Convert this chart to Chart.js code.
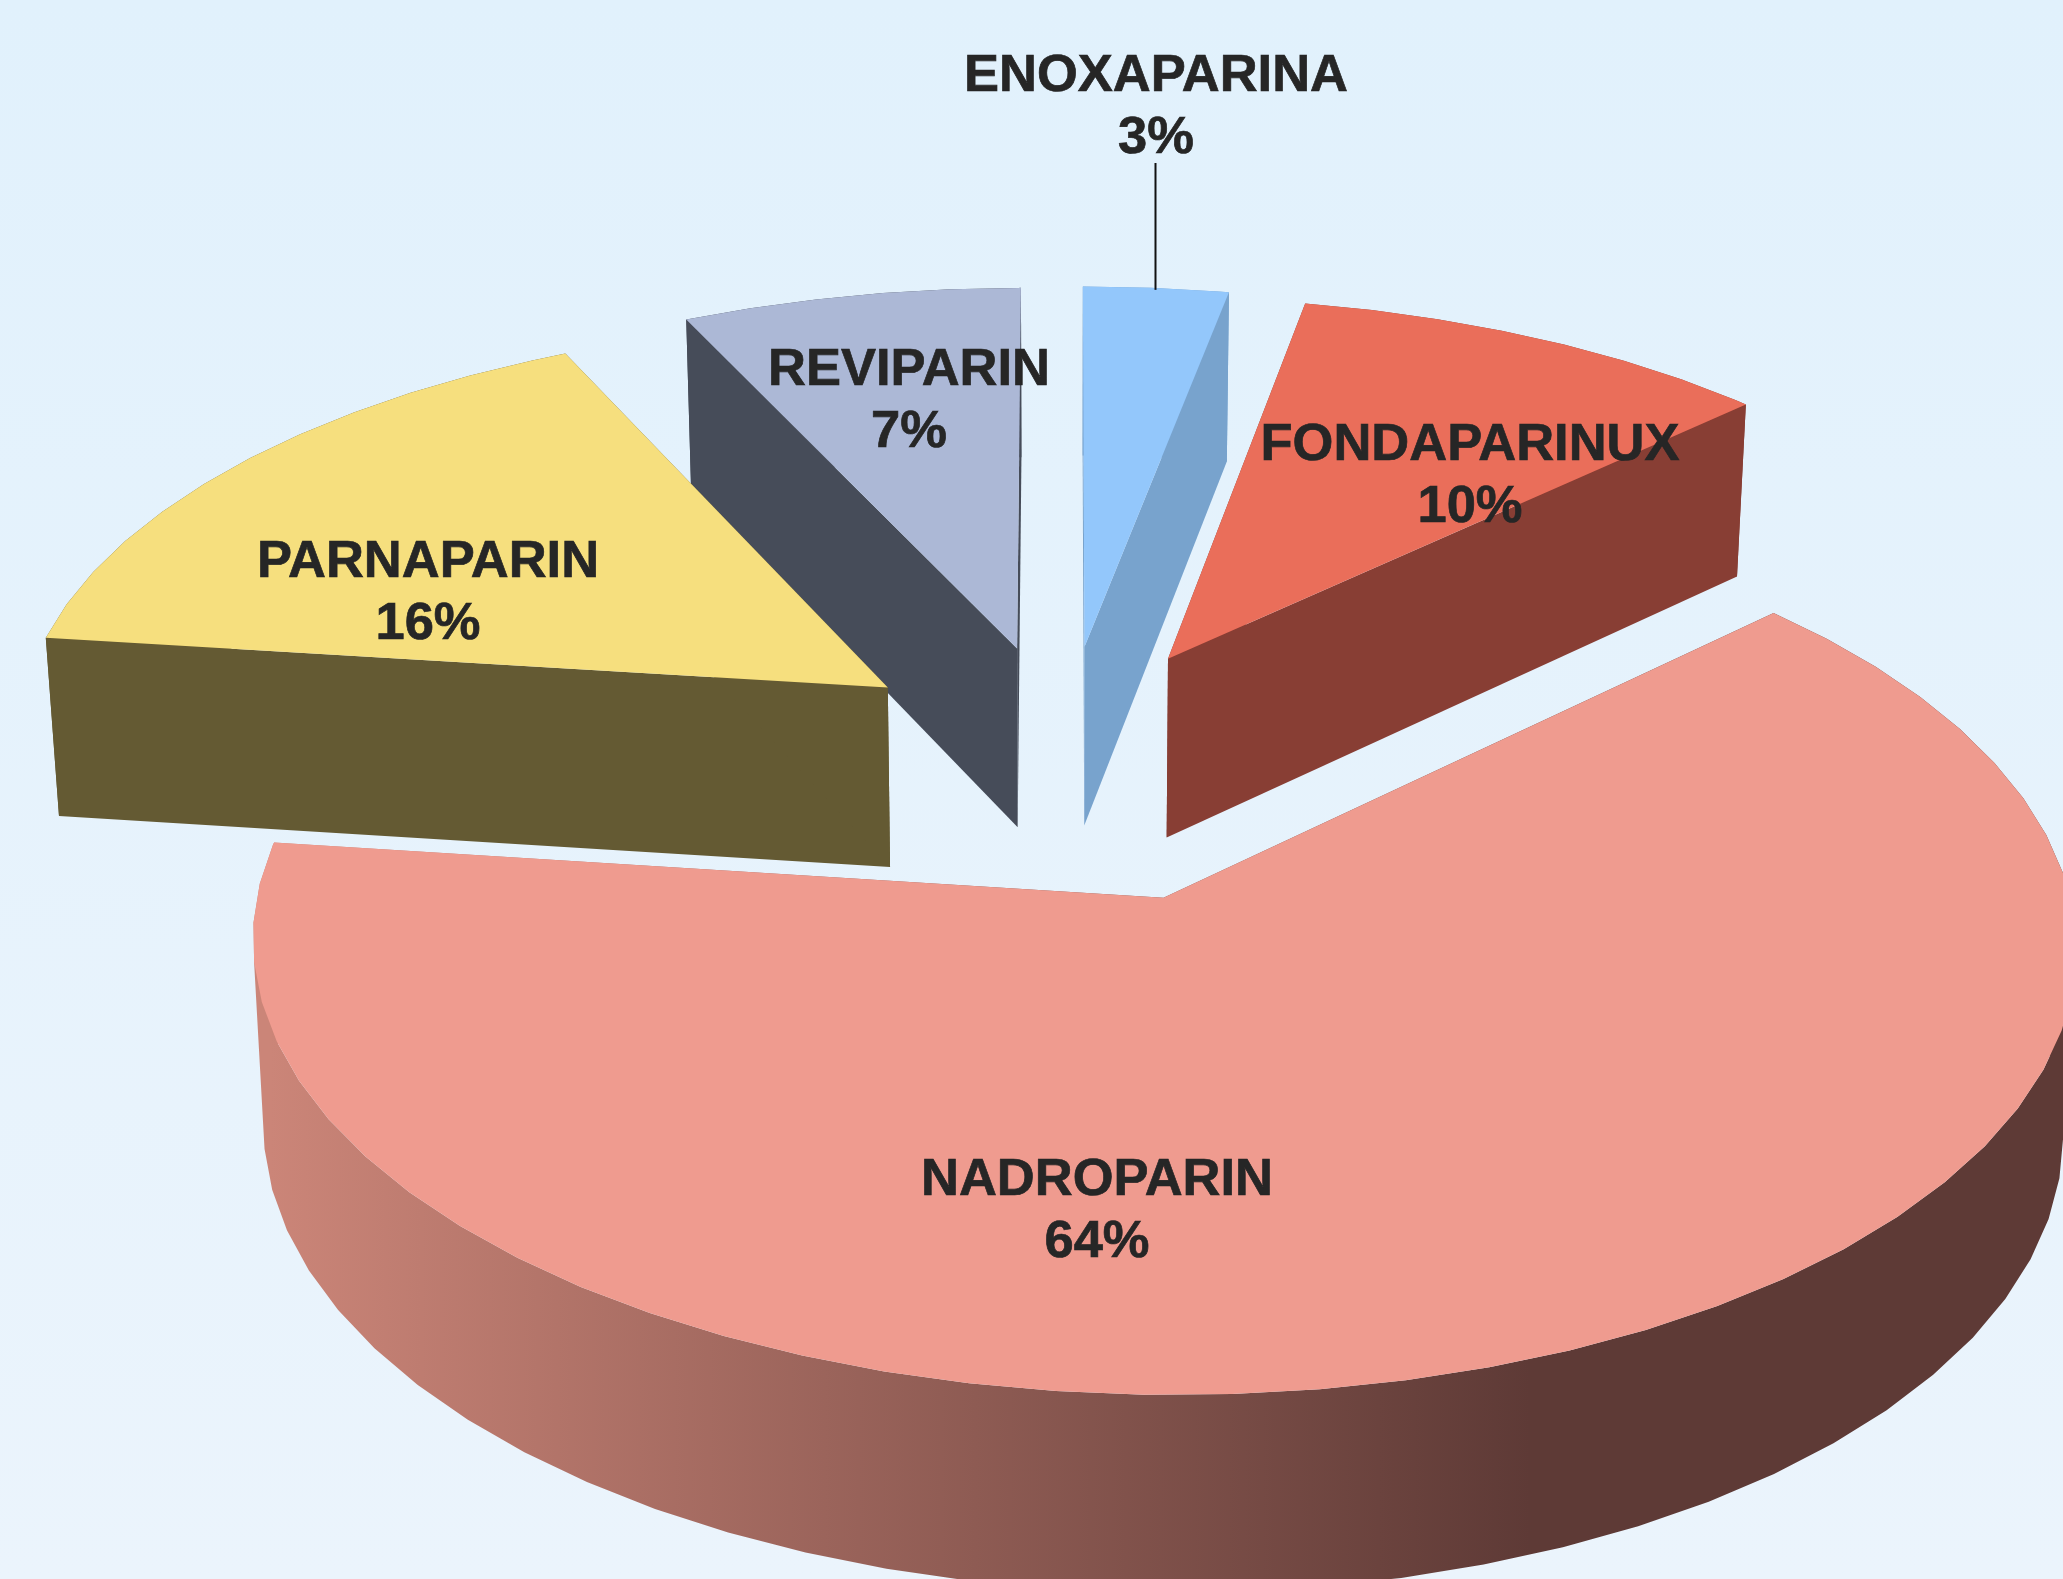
<!DOCTYPE html>
<html>
<head>
<meta charset="utf-8">
<title>Eparine</title>
<script src="https://cdn.jsdelivr.net/npm/chart.js@4"></script>
<style>
  html, body { margin: 0; padding: 0; }
  body { width: 2063px; height: 1579px; overflow: hidden; background: linear-gradient(180deg, #e1f1fc 0%, #ebf4fc 100%); }
  canvas { display: block; }
</style>
</head>
<body>
<canvas id="grafica" width="2063" height="1579"></canvas>
<script>
// datos
const farmacos = ["ENOXAPARINA", "FONDAPARINUX", "NADROPARIN", "PARNAPARIN", "REVIPARIN"];
const porcentajes = [3, 10, 64, 16, 7];

// colores
const coloresCara = ["#93c7fb", "#ea6e5a", "#ef9b8f", "#f6df7e", "#acb8d6"];
const coloresLado = ["#78a3cd", "#883e34", "#cb8578", "#645a33", "#464c59"];
const ladoOscuro = "#5e3a36";

// separacion de cada porcion, en px sobre el radio de 1000
const separacion = [230, 250, 380, 250, 230];
// retoque fino de cada porcion en pantalla
const ajusteX = [6, 5, -3, 2, 0];
const ajusteY = [0, 8, 3, 8, 0];
// de atras hacia adelante
const ordenPintado = [4, 0, 1, 3, 2];
// centro de cada etiqueta en pantalla
const etiquetaX = [1156, 1470, 1097, 428, 909];
const etiquetaY = [77, 446, 1181, 563, 371];

// perspectiva del plano de la torta
const escalaX = 874, escalaY = 414, fuga = 0.10;
const grosor = 181, pasoArco = 5 * Math.PI / 180;

function proyectar(cx, cy, u, v, abajo) {
  // u a la derecha, v hacia el fondo
  const w = 1 + fuga * v;
  let x = u * escalaX / w;
  let y = -v * escalaY / w;
  if (abajo) {
    x *= 0.987;
    y = y * 1.026 + grosor;
  }
  return [cx + x, cy + y];
}

// todas las figuras con el mismo sentido de giro, si no se cancelan al rellenar
function sentidoPositivo(puntos) {
  let area = 0;
  puntos.forEach((p, i) => {
    const q = puntos[(i + 1) % puntos.length];
    area += p[0] * q[1] - q[0] * p[1];
  });
  return area < 0 ? puntos.slice().reverse() : puntos;
}

// varias figuras en un solo relleno, asi no quedan juntas entre facetas
function rellenar(ctx, figuras, relleno) {
  ctx.beginPath();
  figuras.forEach(puntos => {
    sentidoPositivo(puntos).forEach((p, i) => i ? ctx.lineTo(p[0], p[1]) : ctx.moveTo(p[0], p[1]));
    ctx.closePath();
  });
  ctx.fillStyle = relleno;
  ctx.fill();
}

const torta3d = {
  id: "torta3d",
  beforeDatasetsDraw(chart) {
    const ctx = chart.ctx;
    const arcos = chart.getDatasetMeta(0).data;
    ctx.save();
    ordenPintado.forEach(i => {
      const arco = arcos[i];
      const R = arco.outerRadius;
      const medio = (arco.startAngle + arco.endAngle) / 2;
      const d = arco.options.offset / R;
      const u0 = d * Math.cos(medio), v0 = -d * Math.sin(medio);
      const cx = arco.x + ajusteX[i], cy = arco.y + ajusteY[i];

      const angulos = [];
      for (let a = arco.startAngle; a < arco.endAngle; a += pasoArco) angulos.push(a);
      angulos.push(arco.endAngle);
      const borde = abajo => angulos.map(a =>
        proyectar(cx, cy, u0 + Math.cos(a), v0 - Math.sin(a), abajo));
      const arriba = borde(false), debajo = borde(true);
      const centroA = proyectar(cx, cy, u0, v0, false);
      const centroB = proyectar(cx, cy, u0, v0, true);

      let lado = coloresLado[i];
      if (i === 2) {
        lado = ctx.createLinearGradient(270, 0, 1530, 0);
        lado.addColorStop(0, coloresLado[i]);
        lado.addColorStop(1, ladoOscuro);
      }
      // pared exterior por facetas, luego las dos paredes rectas, y la cara encima
      const n = arriba.length - 1;
      const facetas = [];
      for (let k = 0; k < n; k++) {
        facetas.push([arriba[k], arriba[k + 1], debajo[k + 1], debajo[k]]);
      }
      rellenar(ctx, facetas, lado);
      rellenar(ctx, [[centroA, arriba[0], debajo[0], centroB]], lado);
      rellenar(ctx, [[centroA, arriba[n], debajo[n], centroB]], lado);
      rellenar(ctx, [[centroA].concat(arriba)], coloresCara[i]);
    });
    ctx.restore();
    // devolver false cancela el dibujo plano de la torta
    return false;
  },
  afterDraw(chart) {
    const ctx = chart.ctx;
    const arcos = chart.getDatasetMeta(0).data;
    ctx.save();

    // linea guia de ENOXAPARINA
    const a0 = arcos[0];
    const medio = (a0.startAngle + a0.endAngle) / 2;
    const d = a0.options.offset / a0.outerRadius;
    const p = proyectar(a0.x + ajusteX[0], a0.y + ajusteY[0], (d + 1) * Math.cos(medio), -(d + 1) * Math.sin(medio), false);
    ctx.strokeStyle = "#111";
    ctx.lineWidth = 2;
    ctx.beginPath();
    ctx.moveTo(etiquetaX[0] - 0.5, etiquetaY[0] + 86);
    ctx.lineTo(etiquetaX[0] - 0.5, p[1] + 2);
    ctx.stroke();

    ctx.fillStyle = "#262626";
    ctx.strokeStyle = "#262626";
    ctx.lineWidth = 0.7;
    ctx.font = "bold 52.5px 'Liberation Sans', Arial, sans-serif";
    ctx.textAlign = "center";
    ctx.textBaseline = "middle";
    farmacos.forEach((nombre, i) => {
      const pct = porcentajes[i] + "%";
      ctx.fillText(nombre, etiquetaX[i], etiquetaY[i]);
      ctx.strokeText(nombre, etiquetaX[i], etiquetaY[i]);
      ctx.fillText(pct, etiquetaX[i], etiquetaY[i] + 61.5);
      ctx.strokeText(pct, etiquetaX[i], etiquetaY[i] + 61.5);
    });
    ctx.restore();
  }
};

new Chart(document.getElementById("grafica"), {
  type: "pie",
  data: {
    labels: farmacos,
    datasets: [{
      data: porcentajes,
      backgroundColor: coloresCara,
      borderWidth: 0,
      offset: separacion
    }]
  },
  options: {
    responsive: false,
    animation: false,
    radius: 1000,
    layout: { padding: { left: 57, bottom: 100 } },
    plugins: {
      legend: { display: false },
      tooltip: { enabled: false }
    }
  },
  plugins: [torta3d]
});
</script>
</body>
</html>
